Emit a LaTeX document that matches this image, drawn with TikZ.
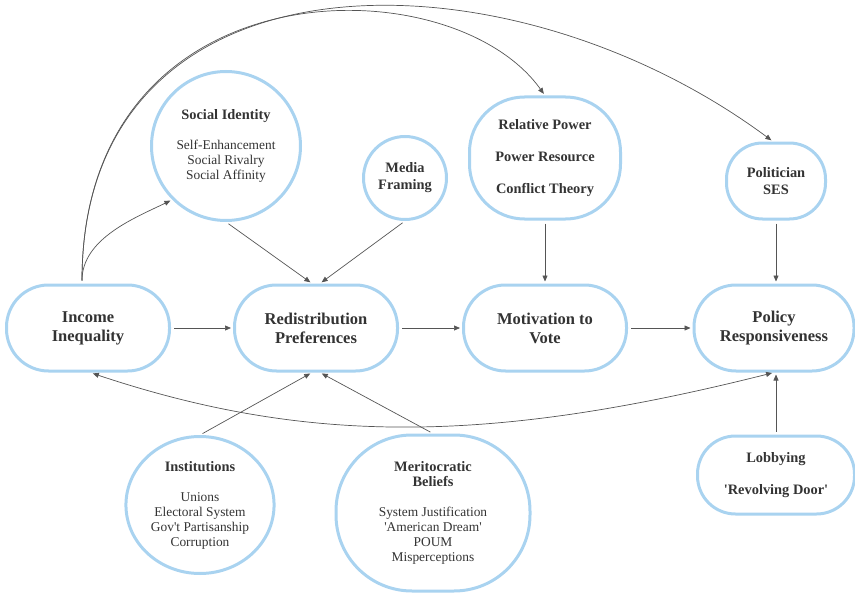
\documentclass[tikz,border=0pt]{standalone}
\usepackage{fontspec}
\setmainfont{Liberation Serif}
\usetikzlibrary{arrows.meta,shapes.geometric}
\definecolor{rim}{HTML}{A9D3F0}
\definecolor{ink}{HTML}{333333}
\definecolor{wire}{HTML}{555555}
\newcommand{\hd}[1]{{\fontsize{14.4}{15}\selectfont\bfseries #1}}
\newcommand{\q}{\textquotesingle}

\begin{document}
\begin{tikzpicture}[x=1pt,y=-1pt,
    >={Triangle[length=6pt,width=5pt]},
    box/.style={draw=rim, line width=3pt, text=ink, align=center,
      rounded corners=42pt, minimum width=163pt, minimum height=86pt,
      font=\fontsize{16.5}{19}\selectfont\bfseries},
    sub/.style={draw=rim, line width=3pt, text=ink, align=center,
      font=\fontsize{13.4}{15}\selectfont},
    tag/.style={sub, font=\fontsize{14.4}{17}\selectfont\bfseries},
    link/.style={->, color=wire, line width=0.7pt, shorten >=2pt, shorten <=3pt}]
  \useasboundingbox (0,0) rectangle (855,594);
  % main chain
  \node[box] (ineq) at (88,328) {Income\\Inequality};
  \node[box] (redist) at (316,328) {Redistribution\\Preferences};
  \node[box] (motiv) at (545,328) {Motivation to\\Vote};
  \node[box, minimum width=160pt] (policy) at (774,328) {Policy\\Responsiveness};
  % mechanisms
  \node[sub, circle, minimum size=149pt] (socid) at (226,146)
    {\hd{Social Identity}\\[15pt]Self-Enhancement\\Social Rivalry\\Social Affinity};
  \node[tag, circle, minimum size=83pt] (media) at (405,178) {Media\\Framing};
  \node[tag, rounded corners=55pt, minimum width=151pt, minimum height=122pt] (relpow) at (545,158)
    {Relative Power\\[15pt]Power Resource\\[15pt]Conflict Theory};
  \node[tag, rounded corners=36pt, minimum width=99pt, minimum height=76pt] (pol) at (776,181) {Politician\\SES};
  \node[sub, ellipse, minimum width=146pt, minimum height=137pt] (inst) at (200,505)
    {\hd{Institutions}\\[15pt]Unions\\Electoral System\\Gov\q t Partisanship\\Corruption};
  \node[sub, rounded corners=76pt, minimum width=194pt, minimum height=156pt] (merit) at (433,513)
    {\hd{Meritocratic}\\\hd{Beliefs}\\[15pt]System Justification\\\q American Dream\q\\POUM\\Misperceptions};
  \node[tag, rounded corners=38pt, minimum width=157pt, minimum height=78pt] (lobby) at (776,475)
    {Lobbying\\[15pt]\q Revolving Door\q};

  \path[link] (ineq) edge (redist);
  \path[link] (redist) edge (motiv);
  \path[link] (motiv) edge (policy);
  \path[link] (relpow) edge (motiv);
  \path[link] (pol.south) edge (pol.south |- policy.north);
  \path[link] (lobby.north) edge (lobby.north |- policy.south);
  \path[link] (socid.south) edge ([xshift=-4pt]redist.north);
  \path[link] (media.south) edge ([xshift=4pt]redist.north);
  \path[link] (inst.north) edge ([xshift=-4pt]redist.south);
  \path[link] (merit.north) edge ([xshift=4pt]redist.south);

  % curved links
  \draw[link] ([xshift=-6pt]ineq.north) .. controls +(0,-45) and +(-37,18) .. (socid.225);
  \draw[link] ([xshift=-6pt]ineq.north) .. controls +(0,-320) and +(-95,-133) .. (relpow.north);
  \draw[link] ([xshift=-6pt]ineq.north) .. controls +(0,-340) and +(-270,-200) .. ([xshift=-3pt]pol.north);
  \draw[link, <->] ([xshift=2pt]ineq.south) .. controls +(216,72) and +(-286,72) .. (policy.south);
\end{tikzpicture}
\end{document}
